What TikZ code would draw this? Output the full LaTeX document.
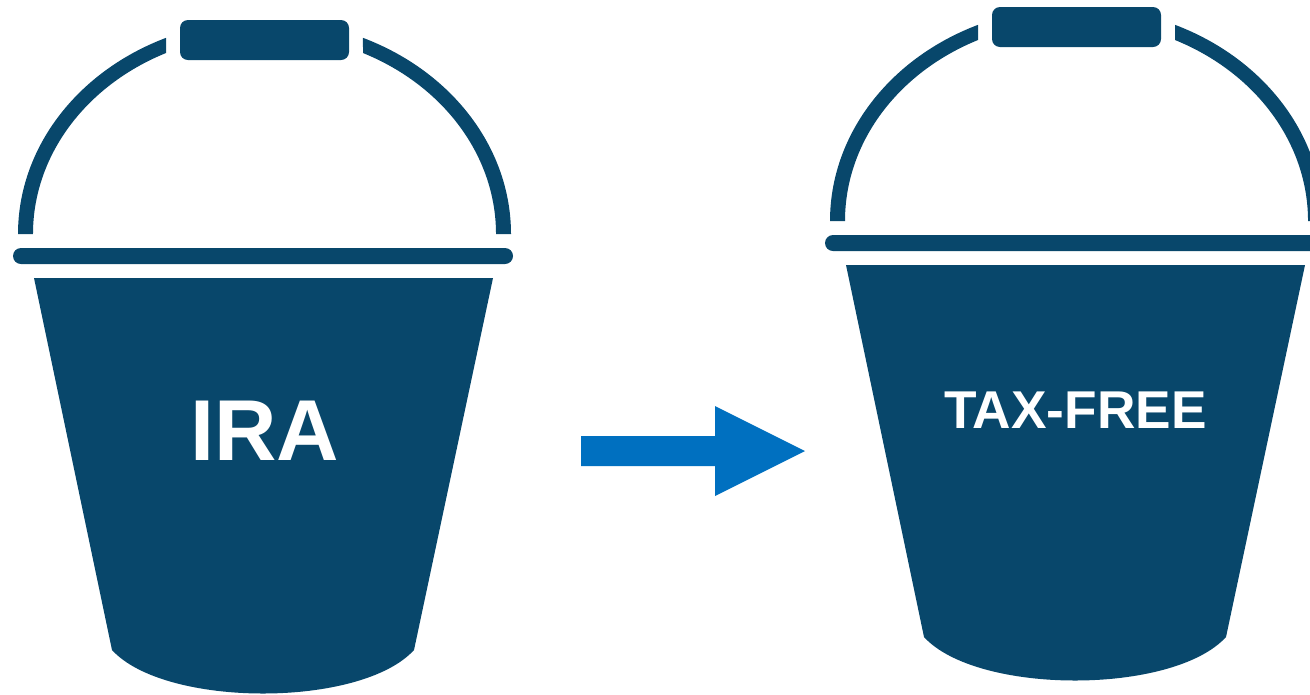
\documentclass[tikz,border=0pt]{standalone}
\usepackage{fontspec}
\setmainfont{Liberation Sans}
\usetikzlibrary{positioning}
\definecolor{bucketblue}{HTML}{08476B}
\definecolor{arrowblue}{HTML}{0070C0}
\tikzset{
  x=0.02cm, y=0.02cm,
  % manico e bordo del secchio
  grip/.style={fill=bucketblue, rounded corners=0.16cm},
  rimbar/.style={fill=bucketblue, rounded corners=0.16cm},
  % corpo del secchio
  pail/.style={fill=bucketblue},
  % scritte
  biglbl/.style={font=\bfseries\fontsize{49.2}{49.2}\selectfont, text=white, inner sep=0pt},
  smalllbl/.style={font=\bfseries\fontsize{30.3}{30.3}\selectfont, text=white, inner sep=0pt},
  % secchio intero
  bucket/.pic={
    \fill[pail] (18,-234) arc[start angle=180, end angle=113.55, x radius=246.5, y radius=214]
      -- (166,-53) arc[start angle=115.18, end angle=180, x radius=231.5, y radius=200] -- cycle;
    \fill[pail] (511,-234) arc[start angle=0, end angle=66.45, x radius=246.5, y radius=214]
      -- (363,-53) arc[start angle=64.82, end angle=0, x radius=231.5, y radius=200] -- cycle;
    \fill[grip] (180,-20) rectangle (349,-60);
    \fill[rimbar] (13,-248) rectangle (513,-264);
    \fill[pail] (34,-278) -- (493,-278) -- (414,-650)
      .. controls (361,-708) and (165,-708) .. (112,-650) -- cycle;
  },
}
\begin{document}
\begin{tikzpicture}
  \useasboundingbox (0,0) rectangle (1310,-694);
  \clip (0,0) rectangle (1310,-694);
  \foreach \bname/\bx/\by in {ira/0/0, taxfree/812/13} {
    \pic (\bname) at (\bx,\by) {bucket};
  }
  \node[biglbl] (iralbl) at (264.5,-431) {IRA};
  \node[smalllbl] (taxlbl) at (1075.5,-410.5) {TAX-FREE};
  % freccia
  \fill[arrowblue] (581,-436) -- (715,-436) -- (715,-406) -- (805,-451)
    -- (715,-496) -- (715,-466) -- (581,-466) -- cycle;
\end{tikzpicture}
\end{document}
